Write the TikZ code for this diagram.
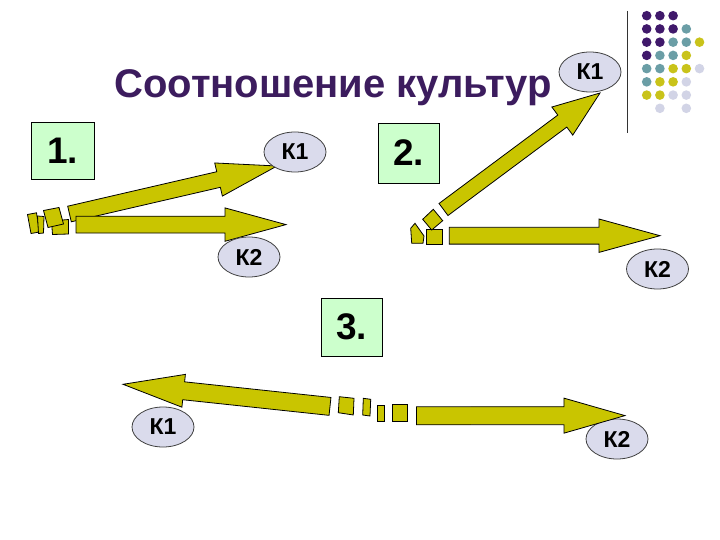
\documentclass[tikz,border=0pt]{standalone}
\usepackage{fontspec}
\setmainfont{Liberation Sans}
\usetikzlibrary{calc,shapes.geometric}
\definecolor{arrowfill}{RGB}{201,197,0}
\definecolor{ellfill}{RGB}{218,219,236}
\definecolor{boxfill}{RGB}{204,255,204}
\definecolor{titlecol}{RGB}{60,28,94}
\definecolor{dotP}{RGB}{64,25,107}
\definecolor{dotT}{RGB}{107,158,166}
\definecolor{dotY}{RGB}{201,195,26}
\definecolor{dotL}{RGB}{210,212,230}
\definecolor{dotN}{RGB}{255,255,255}
\tikzset{
  barrowstyle/.style={fill=arrowfill,draw=black,line width=0.8pt,line join=miter},
  fragment/.style={fill=arrowfill,draw=black,line width=0.8pt},
  kell/.style={ellipse,draw=black!75,line width=0.8pt,fill=ellfill,minimum width=62pt,minimum height=40pt,inner sep=0pt,font=\bfseries\fontsize{23}{23}\selectfont},
  numbox/.style={rectangle,draw=black,line width=0.8pt,fill=boxfill,inner sep=0pt,font=\bfseries\fontsize{37}{37}\selectfont},
  dot/.style={circle,inner sep=0pt,minimum size=9.6pt}
}
% #1 tail, #2 tip, #3 shaft half width, #4 head half width, #5 head length
\newcommand\blockarrow[5]{%
  \coordinate (ba-n) at ($(#2)!#5!(#1)$);
  \draw[barrowstyle] ($(#1)!#3!90:(#2)$) -- ($(ba-n)!#3!-90:(#1)$) -- ($(ba-n)!#4!-90:(#1)$) -- (#2)
    -- ($(ba-n)!#4!90:(#1)$) -- ($(ba-n)!#3!90:(#1)$) -- ($(#1)!#3!-90:(#2)$) -- cycle;
}
\begin{document}
\begin{tikzpicture}[x=1pt,y=-1pt]
\useasboundingbox (0,0) rectangle (720,540);
\fill[white] (0,0) rectangle (720,540);

% decoration: line and dots
\draw[black!80,line width=1.4pt] (627.3,11) -- (627.3,133);
\foreach \row/\cols in {0/{P,P,P},1/{P,P,P,T},2/{P,P,T,T,Y},3/{P,T,T,Y},4/{T,T,Y,Y,L},5/{T,Y,Y,L},6/{Y,Y,L,L},7/{N,L,N,L}}{
  \foreach \c [count=\i from 0] in \cols {
      \node[dot,fill=dot\c] (d\row\i) at (646.7+13.2*\i,15.7+13.23*\row) {};
  }
}

% title
\node[text=titlecol,font=\bfseries\fontsize{40}{40}\selectfont] (title) at (333,88) {Соотношение культур};

% number boxes
\node[numbox,minimum width=63pt,minimum height=57pt] (b1) at (62.5,150.5) {1.};
\node[numbox,minimum width=61pt,minimum height=60pt] (b2) at (408.5,153) {2.};
\node[numbox,minimum width=61pt,minimum height=58pt] (b3) at (351.5,327) {3.};

% ---- scene 1
\draw[fragment] (27.5,214.5) -- (36.5,212.8) -- (39.5,232) -- (31,233.5) -- cycle;
\draw[fragment] (37.5,216) -- (44,216.5) -- (43.5,233) -- (38.5,233.5) -- cycle;
\draw[fragment] (51.5,221) -- (68.5,219.5) -- (68.5,234) -- (52.5,234.5) -- cycle;
\draw[fragment] (43.5,210.5) -- (59,207.5) -- (63.5,224) -- (48,227.5) -- cycle;
\coordinate (s1a) at (69.5,214);
\coordinate (s1b) at (76,224.6);
\coordinate (s1k1) at (277,166);
\coordinate (s1k2) at (286,224.6);
\blockarrow{s1a}{s1k1}{8pt}{17pt}{60pt}
\blockarrow{s1b}{s1k2}{8.4pt}{16.7pt}{61pt}
\node[kell] (k1a) at (295,152) {К1};
\node[kell] (k2a) at (249,257) {К2};

% ---- scene 2
\draw[fragment] (410.7,228.3) -- (415,223.3) -- (424,236) -- (423,243.3) -- (411.7,243.3) -- cycle;
\draw[fragment] (426,229.3) -- (442.7,229.3) -- (442.7,244) -- (426,244) -- cycle;
\draw[fragment] (422.7,219.3) -- (433.3,209.3) -- (442.7,220.7) -- (431.7,230) -- cycle;
\coordinate (s2a) at (443.5,209.5);
\coordinate (s2b) at (449.3,235.7);
\coordinate (s2k1) at (600,93);
\coordinate (s2k2) at (660,235.7);
\blockarrow{s2a}{s2k1}{7.5pt}{17.5pt}{47pt}
\blockarrow{s2b}{s2k2}{8.4pt}{16.7pt}{61pt}
\node[kell] (k1b) at (590,72) {К1};
\node[kell] (k2b) at (657.5,269) {К2};

% ---- scene 3
\node[kell] (k1c) at (163,427) {К1};
\node[kell] (k2c) at (617,439) {К2};
\draw[fragment] (339.3,396.7) -- (354,398.3) -- (353.3,415) -- (338.3,412.7) -- cycle;
\draw[fragment] (363.3,398.3) -- (370.7,399.3) -- (370,416) -- (362.7,415) -- cycle;
\draw[fragment] (377.3,405) -- (384,405) -- (384,421) -- (377.3,421) -- cycle;
\draw[fragment] (392.7,404.5) -- (407.7,404.5) -- (407.7,421) -- (392.7,421) -- cycle;
\coordinate (s3a) at (330,406.4);
\coordinate (s3b) at (416.5,415.8);
\coordinate (s3k1) at (123,384.3);
\coordinate (s3k2) at (625,415.6);
\blockarrow{s3a}{s3k1}{9pt}{16.5pt}{61pt}
\blockarrow{s3b}{s3k2}{9pt}{17.5pt}{61pt}
\end{tikzpicture}
\end{document}
